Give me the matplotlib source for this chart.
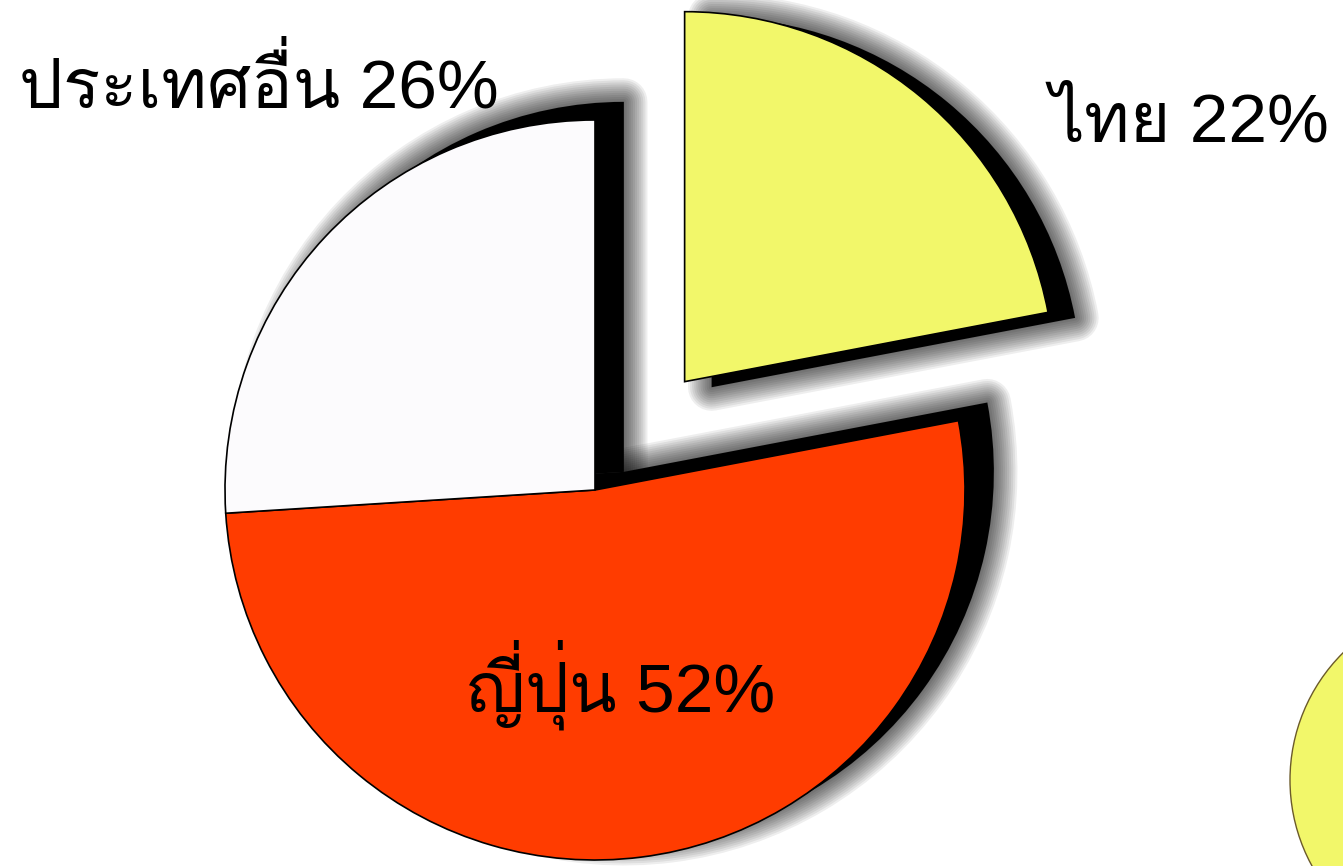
import matplotlib

matplotlib.use("Agg")
import matplotlib.pyplot as plt
from matplotlib import font_manager
from matplotlib.ft2font import FT2Font
from matplotlib.patches import Circle

LABELS = ["ไทย", "ญี่ปุ่น", "ประเทศอื่น"]
SHARES = [22, 52, 26]
COLORS = ["#f2f76a", "#ff3c00", "#fcfbfd"]
EXPLODE = [0.38, 0, 0]

# pixel layout of the original picture
W, H = 1343, 866
CX, CY, R = 595, 490, 370


def thai_family():
    found = set()
    for f in font_manager.fontManager.ttflist:
        try:
            if FT2Font(f.fname).get_char_index(ord("ท")):
                found.add(f.name)
        except Exception:
            pass
    for pref in ["Loma", "Garuda", "Tlwg Typo", "Noto Sans Thai Looped",
                 "Noto Sans Thai"]:
        if pref in found:
            return pref
    return sorted(found)[0] if found else "DejaVu Sans"


def main():
    # latin digits from Liberation Sans, thai glyphs from a thai font
    plt.rcParams["font.family"] = ["Liberation Sans", thai_family(), "DejaVu Sans"]

    fig = plt.figure(figsize=(W / 100, H / 100), dpi=100)
    ax = fig.add_axes([0, 0, 1, 1])

    # drop shadows: yellow wedge and the rest are shifted differently
    groups = [([True, False, False], (0.073, -0.015)),
              ([False, True, True], (0.078, 0.049))]
    for show, c in groups:
        for lw in range(34, 0, -3):
            wedges, _ = ax.pie(SHARES, explode=EXPLODE, startangle=90,
                               counterclock=False, center=c, frame=False,
                               colors=["none"] * 3)
            for w, s in zip(wedges, show):
                if s:
                    w.set(edgecolor=(0, 0, 0, 0.065), linewidth=lw,
                          joinstyle="round", facecolor="none")
                else:
                    w.set_visible(False)
        wedges, _ = ax.pie(SHARES, explode=EXPLODE, startangle=90,
                           counterclock=False, center=c, frame=False,
                           colors=["black"] * 3, wedgeprops=dict(linewidth=0))
        for w, s in zip(wedges, show):
            w.set_visible(s)

    ax.pie(SHARES, explode=EXPLODE, startangle=90, counterclock=False,
           colors=COLORS, frame=False,
           wedgeprops=dict(edgecolor="black", linewidth=1.2))

    ax.add_patch(Circle(((1469 - CX) / R, (CY - 780) / R), 179 / R,
                        facecolor=COLORS[0], edgecolor="#6b5a2a", linewidth=1))

    ax.set_xlim(-CX / R, (W - CX) / R)
    ax.set_ylim(-(H - CY) / R, CY / R)
    ax.set_aspect("equal", adjustable="box")
    ax.axis("off")

    fs = 50
    ax.text(19 / W, 1 - 108 / H, f"{LABELS[2]} {SHARES[2]}%", transform=ax.transAxes,
            ha="left", va="baseline", fontsize=fs)
    ax.text(1050 / W, 1 - 142 / H, f"{LABELS[0]} {SHARES[0]}%", transform=ax.transAxes,
            ha="left", va="baseline", fontsize=fs)
    ax.text(775 / W, 1 - 712 / H, f"{LABELS[1]} {SHARES[1]}%", transform=ax.transAxes,
            ha="right", va="baseline", fontsize=fs)

    fig.savefig("out.png", dpi=100)


if __name__ == "__main__":
    main()
